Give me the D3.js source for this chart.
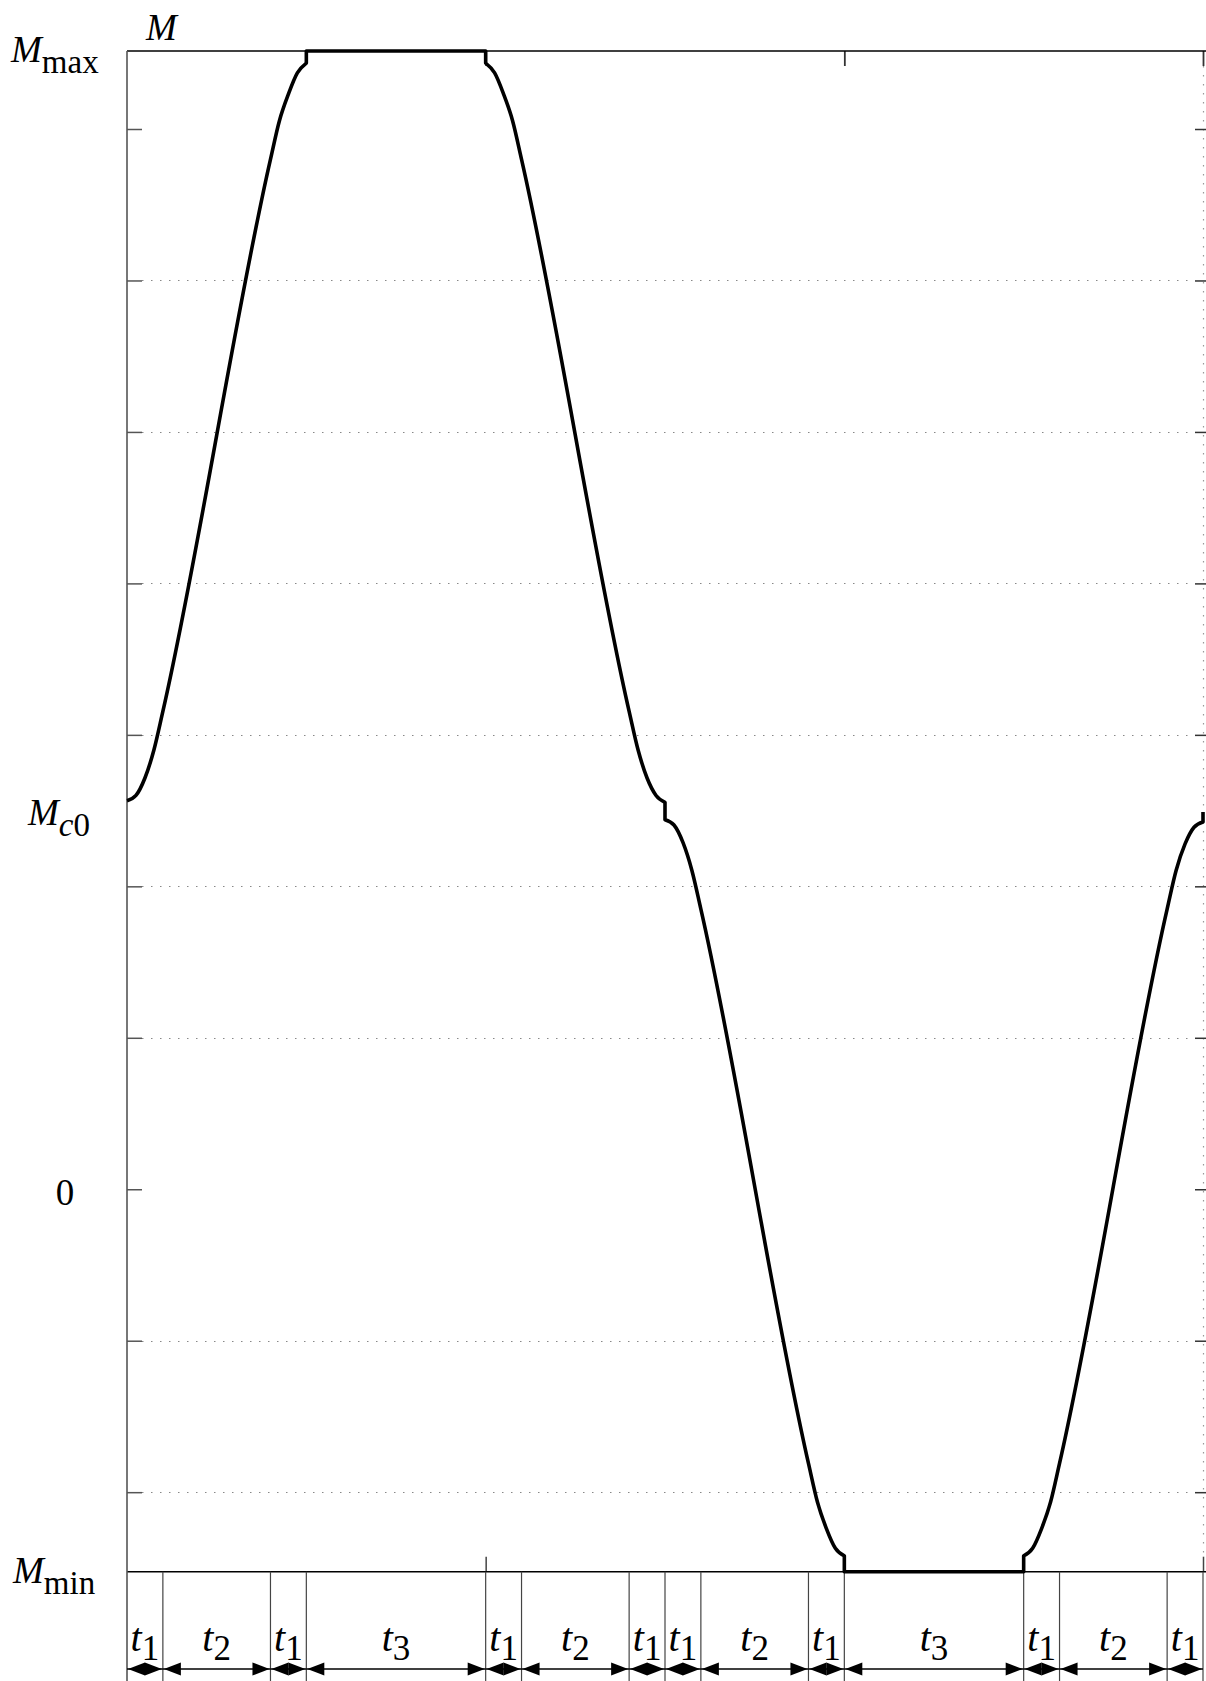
<!DOCTYPE html>
<html>
<head>
<meta charset="utf-8">
<script src="https://cdn.jsdelivr.net/npm/d3@7"></script>
<style>
  body { margin: 0; background: #fff; }
  svg text { font-family: "Liberation Serif", "Times New Roman", Times, serif; fill: #000; }
</style>
</head>
<body>
<script>
const width = 1206, height = 1681;

// axis limits (M in arbitrary units, t in seconds)
const tDomain = [0, 3];
const mDomain = [-0.505, 1.503];

const tTicks = [1, 2, 3];
const mTicks = [-0.4, -0.2, 0, 0.2, 0.4, 0.6, 0.8, 1.0, 1.2, 1.4];
const mGrid = [-0.4, -0.2, 0.2, 0.4, 0.6, 0.8, 1.0, 1.2];

// phase boundaries and their labels (t1, t2, t3)
const phaseEdges = [0, 0.1, 0.4, 0.5, 1.0, 1.1, 1.4, 1.5, 1.6, 1.9, 2.0, 2.5, 2.6, 2.9, 3.0];
const phaseNames = ["1", "2", "1", "3", "1", "2", "1", "1", "2", "1", "3", "1", "2", "1"];

// moment curve; repeated t = vertical step
const curveT = [0, 0.025, 0.05, 0.075, 0.1, 0.4, 0.425, 0.45, 0.475, 0.5,
                0.5, 1.0,
                1.0, 1.025, 1.05, 1.075, 1.1, 1.4, 1.425, 1.45, 1.475, 1.5,
                1.5, 1.525, 1.55, 1.575, 1.6, 1.9, 1.925, 1.95, 1.975, 2.0,
                2.0, 2.5,
                2.5, 2.525, 2.55, 2.575, 2.6, 2.9, 2.925, 2.95, 2.975, 3.0,
                3.0];
const curveM = [0.513, 0.520, 0.543, 0.580, 0.631, 1.360, 1.411, 1.446, 1.474, 1.487,
                1.503, 1.503,
                1.487, 1.474, 1.446, 1.411, 1.360, 0.631, 0.580, 0.543, 0.520, 0.511,
                0.488, 0.481, 0.458, 0.421, 0.370, -0.362, -0.413, -0.448, -0.474, -0.484,
                -0.505, -0.505,
                -0.484, -0.474, -0.448, -0.413, -0.362, 0.370, 0.421, 0.456, 0.478, 0.485,
                0.498];

const plotLeft = 127, plotRight = 1203, plotTop = 51, plotBottom = 1571.7;
const axisRight = 1209;

const x = d3.scaleLinear().domain(tDomain).range([plotLeft, plotRight]);
const y = d3.scaleLinear().domain(mDomain).range([plotBottom, plotTop]);

const svg = d3.select("body").append("svg")
    .attr("width", width)
    .attr("height", height)
    .attr("font-family", "'Liberation Serif', 'Times New Roman', Times, serif");

svg.append("rect").attr("width", width).attr("height", height).attr("fill", "#fff");

// dotted grid
svg.selectAll(".hgrid")
    .data(mGrid)
    .enter()
    .append("line")
    .attr("x1", plotLeft + 15)
    .attr("x2", axisRight - 14)
    .attr("y1", d => Math.round(y(d)) + 0.5)
    .attr("y2", d => Math.round(y(d)) + 0.5)
    .attr("stroke", "#888")
    .attr("stroke-width", 1)
    .attr("stroke-dasharray", "1.5,7.5");

svg.append("line")
    .attr("x1", x(3) + 0.5).attr("x2", x(3) + 0.5)
    .attr("y1", plotTop + 15).attr("y2", plotBottom - 15)
    .attr("stroke", "#999")
    .attr("stroke-width", 1.2)
    .attr("stroke-dasharray", "1.5,7.5");

// y ticks, left and right, pointing inwards
const yAxisL = d3.axisRight(y).tickValues(mTicks).tickSize(15).tickFormat("");
const gL = svg.append("g").attr("transform", `translate(${plotLeft},0)`).call(yAxisL);
gL.select(".domain").remove();
gL.selectAll("line").attr("stroke", "#555").attr("stroke-width", 1.5);

const yAxisR = d3.axisLeft(y).tickValues(mTicks).tickSize(14).tickFormat("");
const gR = svg.append("g").attr("transform", `translate(${axisRight},0)`).call(yAxisR);
gR.select(".domain").remove();
gR.selectAll("line").attr("stroke", "#333").attr("stroke-width", 1.5);

// x ticks, top and bottom
const xAxisT = d3.axisBottom(x).tickValues(tTicks).tickSize(15).tickFormat("");
const gT = svg.append("g").attr("transform", `translate(0,${plotTop})`).call(xAxisT);
gT.select(".domain").remove();
gT.selectAll("line").attr("stroke", "#333").attr("stroke-width", 1.8);

const xAxisB = d3.axisTop(x).tickValues(tTicks).tickSize(15).tickFormat("");
const gB = svg.append("g").attr("transform", `translate(0,${plotBottom})`).call(xAxisB);
gB.select(".domain").remove();
gB.selectAll("line").attr("stroke", "#444").attr("stroke-width", 1.5);

// frame
svg.append("line").attr("x1", plotLeft).attr("x2", width).attr("y1", plotTop).attr("y2", plotTop)
    .attr("stroke", "#000").attr("stroke-width", 1.6);
svg.append("line").attr("x1", plotLeft).attr("x2", width).attr("y1", plotBottom).attr("y2", plotBottom)
    .attr("stroke", "#000").attr("stroke-width", 1.4);
svg.append("line").attr("x1", plotLeft).attr("x2", plotLeft).attr("y1", plotTop).attr("y2", height)
    .attr("stroke", "#555").attr("stroke-width", 1.6);

// phase dividers below the axis
svg.selectAll(".divider")
    .data(phaseEdges.slice(1))
    .enter()
    .append("line")
    .attr("x1", d => x(d)).attr("x2", d => x(d))
    .attr("y1", plotBottom).attr("y2", height)
    .attr("stroke", "#444")
    .attr("stroke-width", 1.2);

// dimension arrows
const arrowY = 1669;
const phases = phaseNames.map((n, i) => ({ name: n, a: phaseEdges[i], b: phaseEdges[i + 1] }));

svg.selectAll(".dimline")
    .data(phases)
    .enter()
    .append("line")
    .attr("x1", d => x(d.a)).attr("x2", d => x(d.b))
    .attr("y1", arrowY).attr("y2", arrowY)
    .attr("stroke", "#000").attr("stroke-width", 1.4);

const aLen = 17, aHalf = 6.5;
svg.selectAll(".headL")
    .data(phases)
    .enter()
    .append("path")
    .attr("d", d => {
        const xa = x(d.a) + 1;
        return `M${xa},${arrowY} L${xa + aLen},${arrowY - aHalf} L${xa + aLen},${arrowY + aHalf} Z`;
    })
    .attr("fill", "#000");
svg.selectAll(".headR")
    .data(phases)
    .enter()
    .append("path")
    .attr("d", d => {
        const xb = x(d.b) - 1;
        return `M${xb},${arrowY} L${xb - aLen},${arrowY - aHalf} L${xb - aLen},${arrowY + aHalf} Z`;
    })
    .attr("fill", "#000");

// phase labels t_i
const tLab = svg.selectAll(".tlab")
    .data(phases)
    .enter()
    .append("text")
    .attr("x", d => (x(d.a) + x(d.b)) / 2)
    .attr("y", 1651)
    .attr("text-anchor", "middle")
    .attr("font-size", "40px");
tLab.append("tspan").attr("font-style", "italic").text("t");
tLab.append("tspan").attr("dy", 9).attr("font-size", "35px").text(d => d.name);

// moment curve: runs with increasing t, joined by vertical steps
const pts = curveT.map((t, i) => [t, curveM[i]]);
const runs = [[pts[0]]];
for (let i = 1; i < pts.length; i++) {
    if (pts[i][0] === pts[i - 1][0]) runs.push([pts[i]]);
    else runs[runs.length - 1].push(pts[i]);
}
const line = d3.line()
    .x(d => x(d[0]))
    .y(d => y(d[1]))
    .curve(d3.curveMonotoneX);
const pathD = runs.map((r, i) => {
    const d = r.length > 1 ? line(r) : `M${x(r[0][0])},${y(r[0][1])}`;
    return i ? "L" + d.slice(1) : d;
}).join("");

svg.append("path")
    .attr("d", pathD)
    .attr("fill", "none")
    .attr("stroke", "#000")
    .attr("stroke-width", 3.6)
    .attr("stroke-linejoin", "round");

// y labels
function mLabel(xPos, yPos, sub, italicSub) {
    const t = svg.append("text").attr("x", xPos).attr("y", yPos).attr("font-size", "37px");
    t.append("tspan").attr("font-style", "italic").text("M");
    if (!sub) return;
    if (italicSub) {
        t.append("tspan").attr("dy", 11).attr("font-size", "33px").attr("font-style", "italic").text(sub[0]);
        t.append("tspan").attr("font-size", "33px").text(sub.slice(1));
    } else {
        t.append("tspan").attr("dy", 11).attr("font-size", "33px").text(sub);
    }
}
mLabel(11, 62, "max", false);
mLabel(28, 825, "c0", true);
mLabel(13, 1583, "min", false);
mLabel(146, 40, null);

svg.append("text")
    .attr("x", 65)
    .attr("y", 1205)
    .attr("text-anchor", "middle")
    .attr("font-size", "37px")
    .text("0");
</script>
</body>
</html>
